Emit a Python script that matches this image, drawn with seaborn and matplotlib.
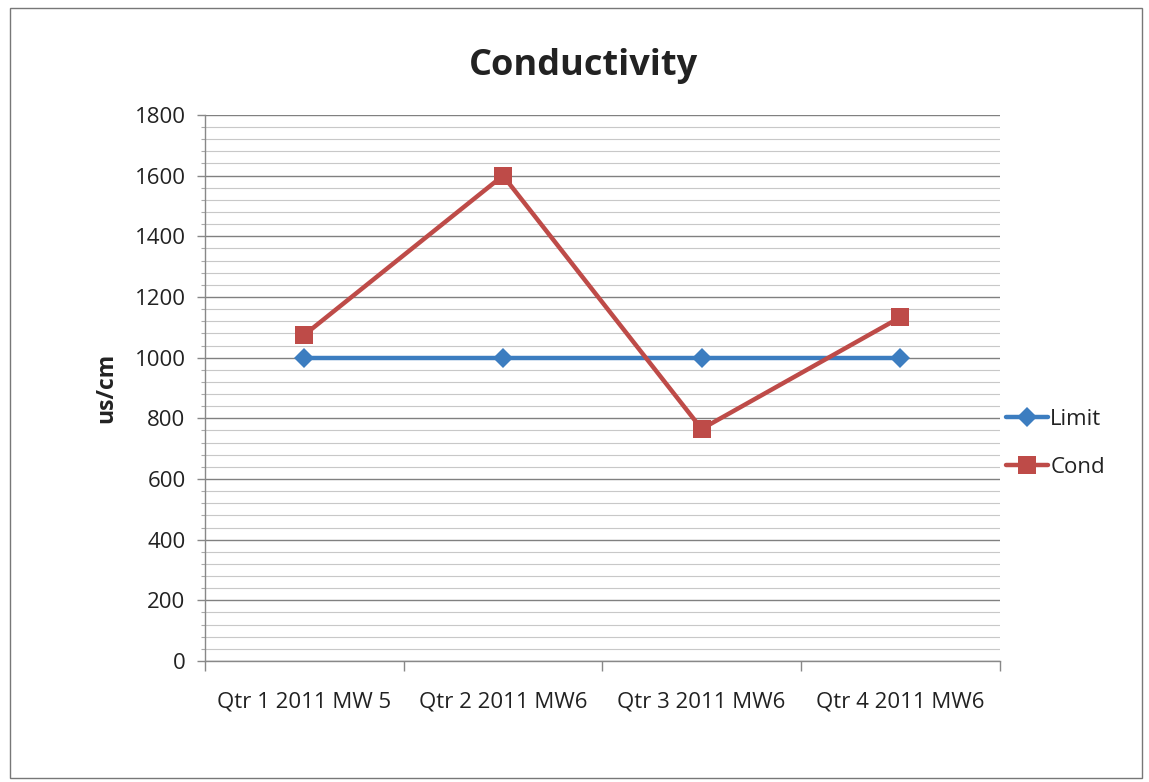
import matplotlib
matplotlib.use("Agg")
import matplotlib.pyplot as plt
from matplotlib.ticker import MultipleLocator, FixedLocator
from matplotlib.patches import Rectangle
from matplotlib.lines import Line2D
import seaborn as sns
import pandas as pd

categories = ["Qtr 1 2011 MW 5", "Qtr 2 2011 MW6", "Qtr 3 2011 MW6", "Qtr 4 2011 MW6"]
limit_values = [1000, 1000, 1000, 1000]
cond_values = [1075, 1600, 765, 1133]
series_names = ["Limit", "Cond"]

df = pd.DataFrame({
    "cat": categories * 2,
    "value": limit_values + cond_values,
    "series": [series_names[0]] * 4 + [series_names[1]] * 4,
})

sns.set_theme(style="white")
plt.rcParams["font.family"] = ["Open Sans", "DejaVu Sans"]

fig = plt.figure(figsize=(11.49, 7.82), dpi=100)
ax = fig.add_axes([0.1784, 0.1547, 0.870 - 0.1784, 0.853 - 0.1547])

palette = {"Limit": "#3C7DC0", "Cond": "#BE4B48"}
sns.lineplot(data=df, x="cat", y="value", hue="series", style="series",
             markers={"Limit": "D", "Cond": "s"}, dashes=False, sort=False,
             palette=palette, linewidth=3.2, ax=ax, legend=False,
             markeredgewidth=0)
for line in ax.lines:
    if line.get_marker() == "D":
        line.set_markersize(10)
    else:
        line.set_markersize(13)

ax.set_xlim(-0.5, 3.5)
ax.set_ylim(0, 1800)
ax.yaxis.set_major_locator(MultipleLocator(200))
ax.yaxis.set_minor_locator(MultipleLocator(40))
ax.grid(which="major", axis="y", color="#808080", linewidth=1.0)
ax.grid(which="minor", axis="y", color="#c8c8c8", linewidth=0.8)
ax.set_axisbelow(True)

ax.xaxis.set_major_locator(FixedLocator([0, 1, 2, 3]))
ax.xaxis.set_minor_locator(FixedLocator([-0.5, 0.5, 1.5, 2.5, 3.5]))
ax.set_xticklabels(categories)
ax.tick_params(axis="x", which="major", length=0, labelsize=16, pad=22, colors="#222222")
ax.tick_params(axis="x", which="minor", length=7, width=1, color="#888888", bottom=True)
ax.tick_params(axis="y", which="major", length=6, width=1, color="#888888", left=True, labelsize=16, colors="#222222", pad=8)
ax.tick_params(axis="y", which="minor", length=3, width=0.8, color="#aaaaaa", left=True)

for s in ["top", "right"]:
    ax.spines[s].set_visible(False)
for s in ["left", "bottom"]:
    ax.spines[s].set_color("#888888")
    ax.spines[s].set_linewidth(1.0)

ax.set_xlabel("")
ax.set_ylabel("us/cm", fontsize=16.5, fontweight="bold", labelpad=12, color="#222222")
fig.text(0.508, 0.915, "Conductivity", ha="center", va="center", fontsize=26,
         fontweight="bold", color="#222222")

handles = [Line2D([], [], color=palette["Limit"], marker="D", markersize=10, linewidth=3.2, markeredgewidth=0),
           Line2D([], [], color=palette["Cond"], marker="s", markersize=13, linewidth=3.2, markeredgewidth=0)]
fig.legend(handles, series_names, loc="center left", bbox_to_anchor=(0.858, 0.433),
           frameon=False, fontsize=16, handlelength=1.9, handletextpad=0.1, labelspacing=1.2,
           labelcolor="#222222")

fig.patches.append(Rectangle((0.009, 0.005), 0.985, 0.985, transform=fig.transFigure,
                             fill=False, edgecolor="#777777", linewidth=1.0))

fig.savefig("out.png", dpi=100)
